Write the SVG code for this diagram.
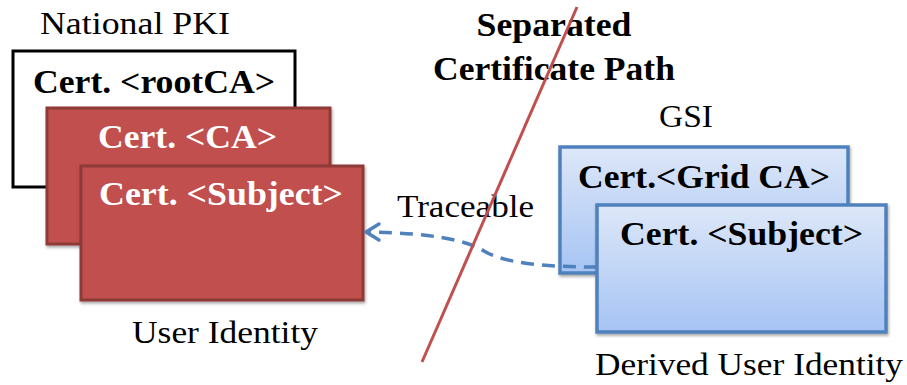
<svg xmlns="http://www.w3.org/2000/svg" width="907" height="385" viewBox="0 0 907 385">
  <style>
    .lbl { font-size: 32px; fill: #000; }
    .head { font-size: 34px; font-weight: bold; fill: #000; }
    .cert { font-size: 33px; font-weight: bold; }
    .cert-dark { fill: #000; }
    .cert-light { fill: #fff; }
    .box-plain { fill: #fff; stroke: #000; stroke-width: 3; }
    .box-red { fill: #C0504D; stroke: #8E3A38; stroke-width: 3; filter: url(#shadow); }
    .box-blue { fill: url(#blueFill); stroke: #4F81BD; stroke-width: 3.5; filter: url(#shadow); }
    .link { fill: none; stroke: #4F81BD; stroke-width: 3.5; stroke-dasharray: 13 8; }
    .head-arrow { fill: none; stroke: #4F81BD; stroke-width: 3.5; stroke-linecap: round; stroke-linejoin: round; }
    .divider { stroke: #C0504D; stroke-width: 3; }
  </style>
  <defs>
    <linearGradient id="blueFill" x1="0" y1="0" x2="0" y2="1">
      <stop offset="0" stop-color="#DDE7F8"/>
      <stop offset="1" stop-color="#A6C4F4"/>
    </linearGradient>
    <filter id="shadow" x="-10%" y="-10%" width="120%" height="125%">
      <feDropShadow dx="1" dy="2" stdDeviation="1.5" flood-color="#000" flood-opacity="0.35"/>
    </filter>
  </defs>

  <!-- labels -->
  <text class="lbl" font-family="Liberation Serif, serif" x="40" y="34" textLength="190" lengthAdjust="spacingAndGlyphs">National PKI</text>
  <text class="head" font-family="Liberation Serif, serif" x="554" y="36" text-anchor="middle" textLength="155" lengthAdjust="spacingAndGlyphs">Separated</text>
  <text class="head" font-family="Liberation Serif, serif" x="554" y="80" text-anchor="middle" textLength="242" lengthAdjust="spacingAndGlyphs">Certificate Path</text>
  <text class="lbl" font-family="Liberation Serif, serif" x="659" y="127" textLength="54" lengthAdjust="spacingAndGlyphs">GSI</text>
  <text class="lbl" font-family="Liberation Serif, serif" x="397" y="217" textLength="137" lengthAdjust="spacingAndGlyphs">Traceable</text>
  <text class="lbl" font-family="Liberation Serif, serif" x="132" y="343" textLength="186" lengthAdjust="spacingAndGlyphs">User Identity</text>
  <text class="lbl" font-family="Liberation Serif, serif" x="595" y="375" textLength="308" lengthAdjust="spacingAndGlyphs">Derived User Identity</text>

  <!-- national PKI chain -->
  <g id="root-ca">
    <rect class="box-plain" x="13" y="51" width="282" height="136"/>
    <text class="cert cert-dark" font-family="Liberation Serif, serif" x="33" y="93" textLength="242" lengthAdjust="spacingAndGlyphs">Cert. &lt;rootCA&gt;</text>
  </g>
  <g id="ca">
    <rect class="box-red" x="47" y="108" width="283" height="136"/>
    <text class="cert cert-light" font-family="Liberation Serif, serif" x="98" y="148" textLength="179" lengthAdjust="spacingAndGlyphs">Cert. &lt;CA&gt;</text>
  </g>
  <g id="user-subject">
    <rect class="box-red" x="81" y="166" width="282" height="134"/>
    <text class="cert cert-light" font-family="Liberation Serif, serif" x="99" y="205" textLength="244" lengthAdjust="spacingAndGlyphs">Cert. &lt;Subject&gt;</text>
  </g>

  <!-- GSI chain -->
  <g id="grid-ca">
    <rect class="box-blue" x="560" y="147" width="288" height="126"/>
    <text class="cert cert-dark" font-family="Liberation Serif, serif" x="578" y="188" textLength="252" lengthAdjust="spacingAndGlyphs">Cert.&lt;Grid CA&gt;</text>
  </g>

  <g id="connectors">
    <path class="link" d="M597 267 C545 267 503 263 484 251 C467 240 430 233 368 232"/>
    <path class="head-arrow" d="M379 224 L366 232 L379 240"/>
  </g>

  <g id="gsi-subject">
    <rect class="box-blue" x="597" y="205" width="289" height="127"/>
    <text class="cert cert-dark" font-family="Liberation Serif, serif" x="620" y="245" textLength="243" lengthAdjust="spacingAndGlyphs">Cert. &lt;Subject&gt;</text>
  </g>

  <!-- separation line between the two paths -->
  <line class="divider" x1="577" y1="7" x2="422" y2="362"/>
</svg>
